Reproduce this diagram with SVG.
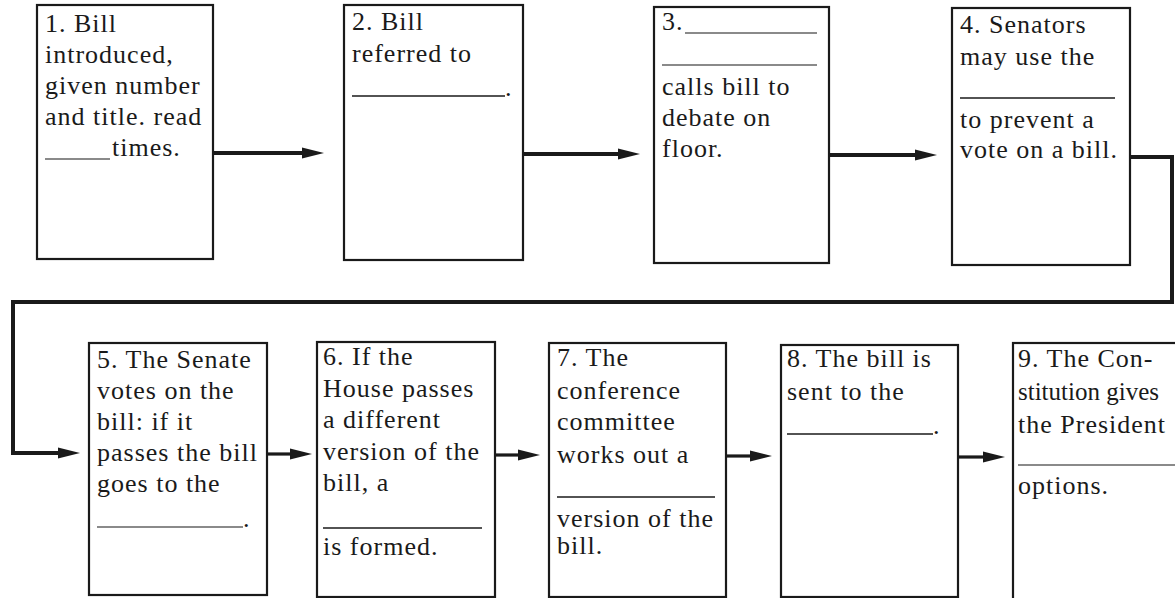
<svg xmlns="http://www.w3.org/2000/svg" width="1175" height="598" viewBox="0 0 1175 598">
<style>
.box{fill:#fff;stroke:#1a1a1a;stroke-width:2.2}
.t{font-family:"Liberation Serif","Times New Roman",serif;font-size:26px;letter-spacing:1px;fill:#1a1a1a}
.tn{letter-spacing:0;font-size:25px}
.blank{stroke:#1a1a1a;stroke-width:1.5}
.gblank{stroke:#8a8a8a;stroke-width:2}
.c{fill:none;stroke:#1a1a1a;stroke-width:4}
.c2{fill:none;stroke:#1a1a1a;stroke-width:3.2}
</style>
<defs>
<marker id="ah" markerUnits="userSpaceOnUse" markerWidth="22" markerHeight="12" viewBox="0 0 22 12" refX="0" refY="6" orient="auto">
<path d="M0,0.5 L22,6 L0,11.5 z" fill="#1a1a1a"/>
</marker>
</defs>
<rect width="1175" height="598" fill="#fff"/>
<g id="connectors">
<path class="c" d="M213 153 H302" marker-end="url(#ah)"/>
<path class="c" d="M523 154 H618" marker-end="url(#ah)"/>
<path class="c" d="M829 155 H915" marker-end="url(#ah)"/>
<path class="c" d="M1130 157 H1172 V302 H13 V453 H58" marker-end="url(#ah)"/>
<path class="c2" d="M267 454 H290" marker-end="url(#ah)"/>
<path class="c2" d="M495 455 H518" marker-end="url(#ah)"/>
<path class="c2" d="M726 456 H750" marker-end="url(#ah)"/>
<path class="c2" d="M958 457 H983" marker-end="url(#ah)"/>
</g>
<g id="node1">
<rect class="box" x="37" y="5" width="176" height="254"/>
<text class="t" x="45" y="32">1. Bill</text>
<text class="t" x="45" y="63">introduced,</text>
<text class="t" x="45" y="94">given number</text>
<text class="t" x="45" y="125">and title. read</text>
<line class="gblank" x1="45" y1="159" x2="110" y2="159"/>
<text class="t" x="112" y="156">times.</text>
</g>
<g id="node2">
<rect class="box" x="344" y="5" width="179" height="255"/>
<text class="t" x="352" y="30">2. Bill</text>
<text class="t" x="352" y="62">referred to</text>
<line class="blank" x1="352" y1="96" x2="505" y2="96"/>
<text class="t" x="505" y="96">.</text>
</g>
<g id="node3">
<rect class="box" x="654" y="7" width="175" height="256"/>
<text class="t" x="662" y="30">3.</text>
<line class="gblank" x1="685" y1="33" x2="817" y2="33"/>
<line class="gblank" x1="662" y1="65" x2="817" y2="65"/>
<text class="t" x="662" y="95">calls bill to</text>
<text class="t" x="662" y="126">debate on</text>
<text class="t" x="662" y="157">floor.</text>
</g>
<g id="node4">
<rect class="box" x="952" y="8" width="178" height="257"/>
<text class="t" x="960" y="33">4. Senators</text>
<text class="t" x="960" y="65">may use the</text>
<line class="blank" x1="960" y1="98" x2="1115" y2="98"/>
<text class="t" x="960" y="128">to prevent a</text>
<text class="t" x="960" y="158">vote on a bill.</text>
</g>
<g id="node5">
<rect class="box" x="89" y="343" width="178" height="252"/>
<text class="t" x="97" y="368">5. The Senate</text>
<text class="t" x="97" y="399">votes on the</text>
<text class="t" x="97" y="430">bill: if it</text>
<text class="t" x="97" y="461">passes the bill</text>
<text class="t" x="97" y="492">goes to the</text>
<line class="gblank" x1="97" y1="527" x2="243" y2="527"/>
<text class="t" x="243" y="527">.</text>
</g>
<g id="node6">
<rect class="box" x="317" y="342" width="178" height="255"/>
<text class="t" x="323" y="365">6. If the</text>
<text class="t" x="323" y="397">House passes</text>
<text class="t" x="323" y="428">a different</text>
<text class="t" x="323" y="460">version of the</text>
<text class="t" x="323" y="491">bill, a</text>
<line class="blank" x1="323" y1="528" x2="482" y2="528"/>
<text class="t" x="323" y="555">is formed.</text>
</g>
<g id="node7">
<rect class="box" x="549" y="343" width="177" height="254"/>
<text class="t" x="557" y="366">7. The</text>
<text class="t" x="557" y="399">conference</text>
<text class="t" x="557" y="430">committee</text>
<text class="t" x="557" y="463">works out a</text>
<line class="blank" x1="557" y1="497" x2="715" y2="497"/>
<text class="t" x="557" y="527">version of the</text>
<text class="t" x="557" y="554">bill.</text>
</g>
<g id="node8">
<rect class="box" x="781" y="345" width="177" height="252"/>
<text class="t" x="787" y="367">8. The bill is</text>
<text class="t" x="787" y="400">sent to the</text>
<line class="blank" x1="787" y1="434" x2="933" y2="434"/>
<text class="t" x="933" y="434">.</text>
</g>
<g id="node9">
<rect class="box" x="1013" y="343" width="180" height="260"/>
<text class="t" x="1018" y="367">9. The Con-</text>
<text class="t tn" x="1018" y="400">stitution gives</text>
<text class="t" x="1018" y="433">the President</text>
<line class="gblank" x1="1018" y1="465" x2="1175" y2="465"/>
<text class="t" x="1018" y="494">options.</text>
</g>
</svg>
